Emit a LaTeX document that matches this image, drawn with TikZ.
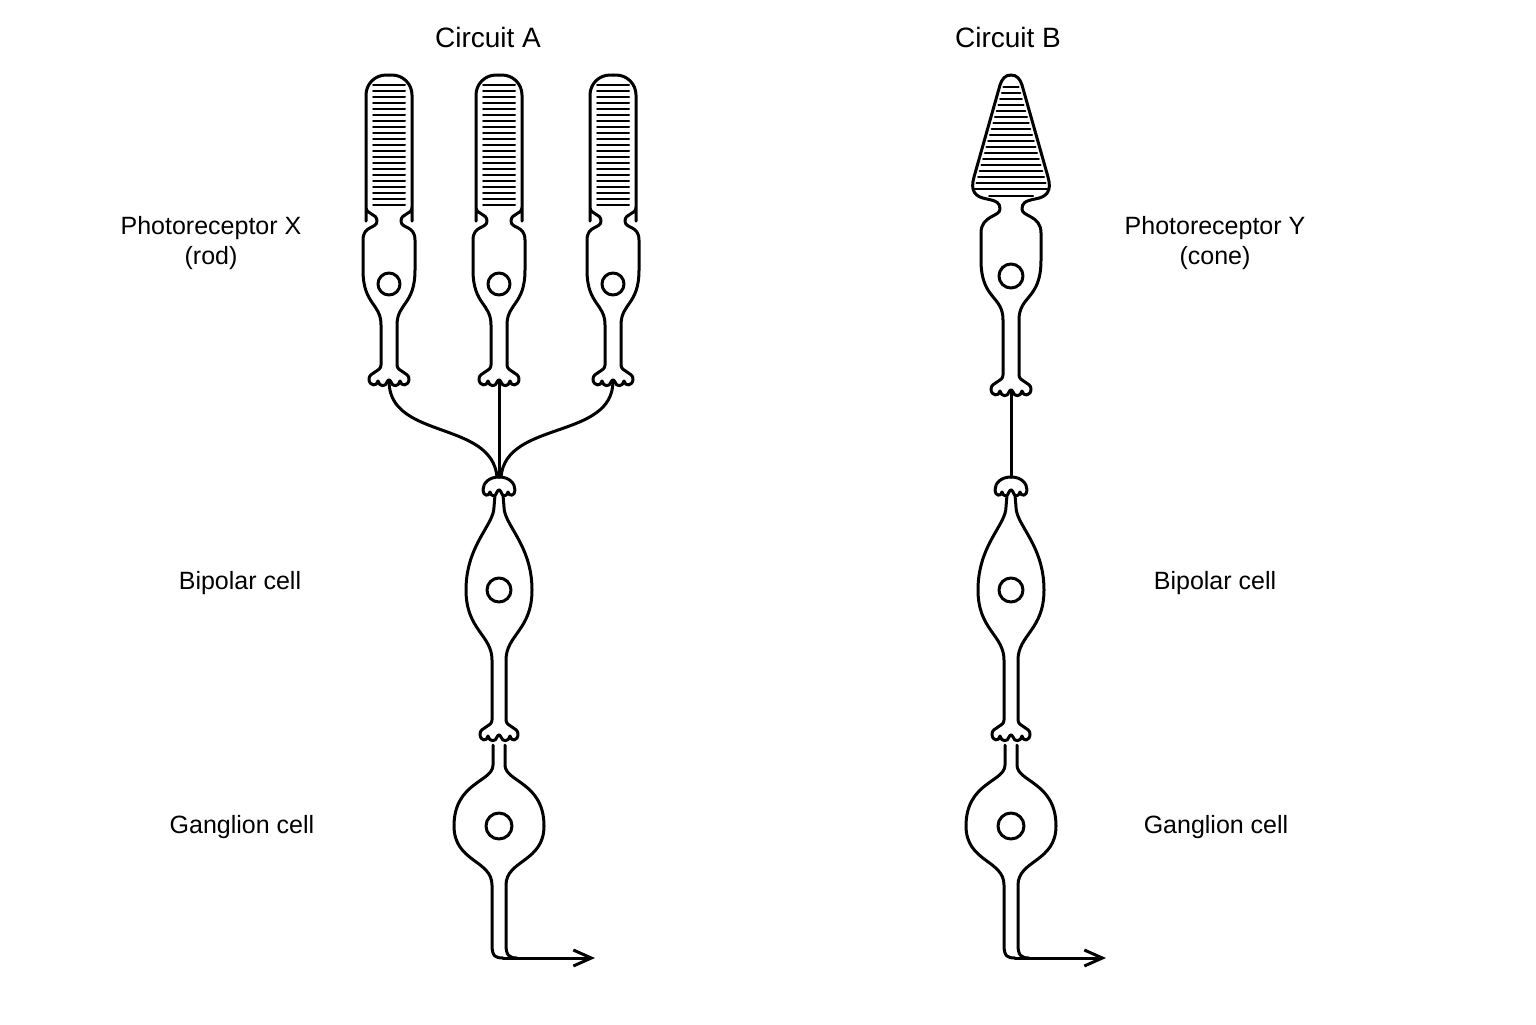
\documentclass[tikz,border=0pt]{standalone}
\usepackage{fontspec}
\setmainfont{Liberation Sans}
\usetikzlibrary{arrows.meta}
\begin{document}
\begin{tikzpicture}[x=0.5pt,y=-0.5pt,line width=1.5pt,line join=round,line cap=round,
  lbl/.style={font=\fontsize{12.5}{15}\selectfont,align=center},
  ttl/.style={font=\fontsize{14}{16}\selectfont},
  stripe/.style={line width=1pt},
  rod/.pic={
    \foreach \s in {1,-1}{
      \draw[xscale=\s,rounded corners=10] (0,0) -- (23,0) -- (23,126) [sharp corners] -- (23,132)
        .. controls (23,140) and (12,138) .. (12,146) .. controls (12,154) and (26,150) .. (26,165)
        -- (26,195) .. controls (26,230) and (8,228) .. (8,250) -- (8,290)
        .. controls (8,297) and (20,297) .. (20,304) .. controls (20,311) and (12,312) .. (11,306)
        .. controls (10,312) and (3,312) .. (2,307) .. controls (1.5,305) and (0,305) .. (0,305);}
    \foreach \y in {10,16,...,134} \draw[stripe] (-16,\y) -- (16,\y);
    \draw (0,209) circle (11);
  },
  cone/.pic={
    \foreach \s in {1,-1}{
      \draw[xscale=\s] (0,0) .. controls (6,0) and (9,4) .. (11,10) -- (37,102)
        .. controls (41,116) and (36,122) .. (24,124) .. controls (14,126) and (11,128) .. (11,134)
        .. controls (11,142) and (30,140) .. (30,158) -- (30,185)
        .. controls (30,225) and (8,220) .. (8,245) -- (8,300)
        .. controls (8,307) and (20,307) .. (20,314) .. controls (20,321) and (12,322) .. (11,316)
        .. controls (10,322) and (3,322) .. (2,317) .. controls (1.5,315) and (0,315) .. (0,315);}
    \foreach \y in {12,18,...,118}{
      \pgfmathsetmacro\w{11+(\y-10)*26/92-4}
      \draw[stripe] (-\w,\y) -- (\w,\y);}
    \draw[stripe] (-22,121) -- (22,121);
    \draw (0,201) circle (12);
  },
  bip/.pic={
    \foreach \s in {1,-1}{
      \draw[xscale=\s] (0,0) .. controls (10,0) and (16,6) .. (16,13) .. controls (16,19) and (10,20) .. (9,15)
        .. controls (8,20) and (3,20) .. (2,15) .. controls (1.5,13) and (0,13) .. (0,13);
      \draw[xscale=\s] (4,18) -- (5,30) .. controls (5,48) and (33,68) .. (33,113)
        .. controls (33,153) and (7,158) .. (7,183) -- (7,243)
        .. controls (7,250) and (19,250) .. (19,257) .. controls (19,264) and (12,265) .. (11,259)
        .. controls (10,265) and (3,265) .. (2,260) .. controls (1.5,258) and (0,258) .. (0,258);}
    \draw (0,113) circle (12);
  },
  gang/.pic={
    \draw (6,0) -- (6,20) .. controls (6,37) and (45,37) .. (45,81) .. controls (45,117) and (7,115) .. (7,140)
      -- (7,200) .. controls (7,210) and (10,213) .. (18,213);
    \draw (-6,0) -- (-6,20) .. controls (-6,37) and (-45,37) .. (-45,81) .. controls (-45,117) and (-7,115) .. (-7,140)
      -- (-7,200) .. controls (-7,212) and (-3,213) .. (4,213);
    \draw (0,81) circle (13);
  }]
\useasboundingbox (0,0) rectangle (1536,1024);
\node[ttl] (ta) at (488,37) {Circuit A};
\node[ttl] (tb) at (1008,37) {Circuit B};
\node[lbl] (px) at (211,243) {Photoreceptor X\\(rod)};
\node[lbl] (py) at (1215,243) {Photoreceptor Y\\(cone)};
\node[lbl] (ba) at (240,583) {Bipolar cell};
\node[lbl] (bb) at (1215,583) {Bipolar cell};
\node[lbl] (ga) at (242,827) {Ganglion cell};
\node[lbl] (gb) at (1216,827) {Ganglion cell};
% circuit A
\pic at (389,75) {rod};
\pic at (499,75) {rod};
\pic at (613,75) {rod};
\pic at (499,477) {bip};
\pic at (499,745) {gang};
\coordinate (r1) at (389,381);
\coordinate (r2) at (499,381);
\coordinate (r3) at (613,381);
\coordinate (da) at (499,477);
\draw (r1) .. controls (389,440) and (492,420) .. (497,477);
\draw (r2) -- (da);
\draw (r3) .. controls (613,440) and (506,420) .. (501,477);
\coordinate (ea) at (503,958);
\coordinate (oa) at (595,958);
\draw[-{Straight Barb[length=9pt,width=8pt]}] (ea) -- (oa);
% circuit B
\pic at (1011,75) {cone};
\pic at (1011,477) {bip};
\pic at (1011,745) {gang};
\coordinate (c1) at (1011,391);
\coordinate (db) at (1011,477);
\draw (c1) -- (db);
\coordinate (eb) at (1015,958);
\coordinate (ob) at (1106,958);
\draw[-{Straight Barb[length=9pt,width=8pt]}] (eb) -- (ob);
\end{tikzpicture}
\end{document}
